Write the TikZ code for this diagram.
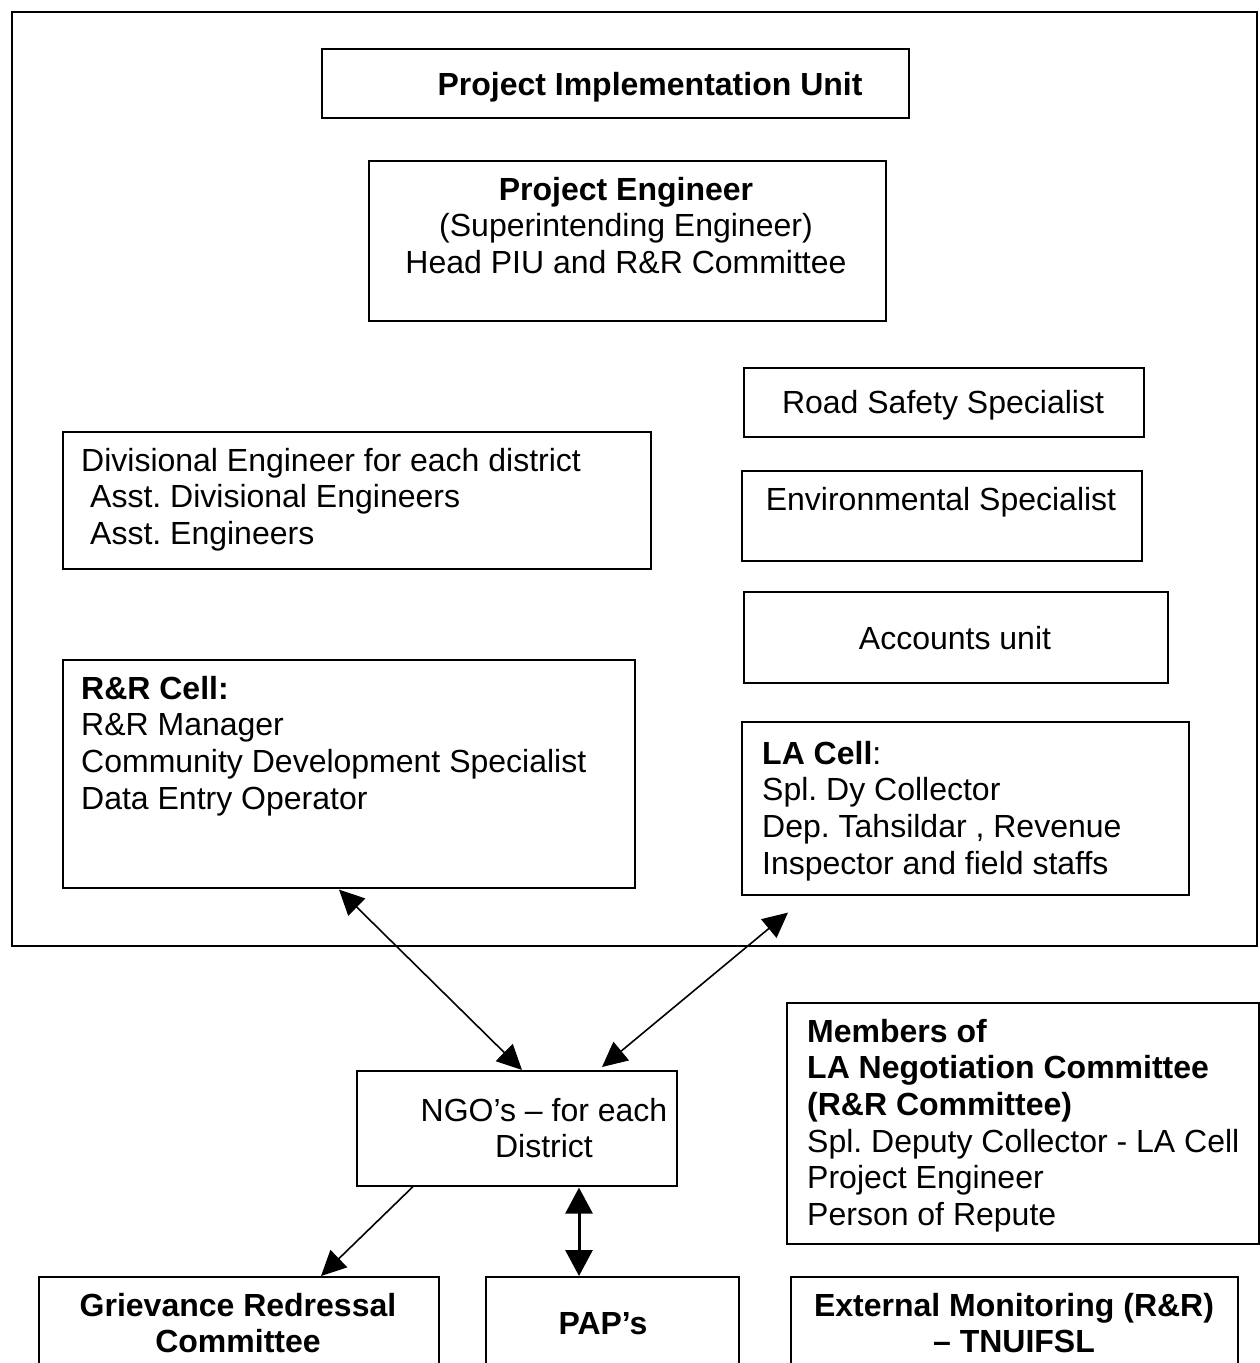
\documentclass[tikz,border=0pt]{standalone}
\usepackage{fontspec}
\setmainfont{Liberation Sans}
\usetikzlibrary{arrows.meta,calc}
\frenchspacing
\newcommand\mlines[2]{\begin{tabular}[t]{@{}#1@{}}#2\end{tabular}}
\begin{document}
\begin{tikzpicture}[x=1pt,y=-1pt,
  box/.style={draw, line width=1.6pt, inner sep=0pt, anchor=north west},
  txt/.style={inner sep=0pt, anchor=base, font=\fontsize{32}{36.7}\selectfont\frenchspacing},
  ltxt/.style={txt, anchor=base west},
  dbl/.style={{Triangle[length=25pt,width=24pt]}-{Triangle[length=25pt,width=24pt]}, line width=1.6pt},
  sgl/.style={-{Triangle[length=25pt,width=24pt]}, line width=1.6pt},
  thick2/.style={{Triangle[length=26pt,width=27pt]}-{Triangle[length=26pt,width=27pt]}, line width=3pt},
]
\useasboundingbox (0,0) rectangle (1260,1363);
\fill[white] (0,0) rectangle (1260,1363);
\begin{scope}
\clip (0,0) rectangle (1260,1363);
% outer frame
\node[box, line width=2pt, minimum width=1245pt, minimum height=934pt] (frame) at (11,11) {};
% boxes
\node[box, minimum width=587pt, minimum height=69pt] (piu) at (321,48) {};
\node[box, minimum width=517pt, minimum height=160pt] (pe) at (368,160) {};
\node[box, minimum width=400pt, minimum height=69pt] (rss) at (743,367) {};
\node[box, minimum width=400pt, minimum height=90pt] (env) at (741,470) {};
\node[box, minimum width=424pt, minimum height=91pt] (acc) at (743,591) {};
\node[box, minimum width=588pt, minimum height=137pt] (div) at (62,431) {};
\node[box, minimum width=572pt, minimum height=228pt] (rr) at (62,659) {};
\node[box, minimum width=447pt, minimum height=173pt] (la) at (741,721) {};
\node[box, minimum width=320pt, minimum height=115pt] (ngo) at (356,1070) {};
\node[box, minimum width=472pt, minimum height=241pt] (mem) at (786,1002) {};
\node[box, minimum width=400pt, minimum height=150pt] (grv) at (38,1276) {};
\node[box, minimum width=253pt, minimum height=150pt] (pap) at (485,1276) {};
\node[box, minimum width=447pt, minimum height=150pt] (ext) at (790,1276) {};
% texts
\node[txt] (tpiu) at (650,95) {\textbf{Project Implementation Unit}};
\node[txt] (tpe) at (626,200) {\mlines{c}{\textbf{Project Engineer}\\(Superintending Engineer)\\Head PIU and R\&R Committee}};
\node[txt] (trss) at (943,413) {Road Safety Specialist};
\node[txt] (tenv) at (941,510) {Environmental Specialist};
\node[txt] (tacc) at (955,649) {Accounts unit};
\node[ltxt] (tdiv) at (81,471) {\mlines{l}{Divisional Engineer for each district\\\hspace{9pt}Asst. Divisional Engineers\\\hspace{9pt}Asst. Engineers}};
\node[ltxt] (trr) at (81,699) {\mlines{l}{\textbf{R\&R Cell:}\\R\&R Manager\\Community Development Specialist\\Data Entry Operator}};
\node[ltxt] (tla) at (762,764) {\mlines{l}{\textbf{LA Cell}:\\Spl. Dy Collector\\Dep. Tahsildar , Revenue\\Inspector and field staffs}};
\node[txt] (tngo) at (544,1121) {\mlines{c}{NGO’s – for each\\District}};
\node[ltxt] (tmem) at (807,1042) {\mlines{l}{\textbf{Members of}\\\textbf{LA Negotiation Committee}\\\textbf{(R\&R Committee)}\\Spl. Deputy Collector - LA Cell\\Project Engineer\\Person of Repute}};
\node[txt] (tgrv) at (238,1316) {\mlines{c}{\textbf{Grievance Redressal}\\\textbf{Committee}}};
\node[txt] (tpap) at (603,1334) {\textbf{PAP’s}};
\node[txt] (text) at (1014,1316) {\mlines{c}{\textbf{External Monitoring (R\&R)}\\\textbf{– TNUIFSL}}};
% connectors
\draw[dbl] ($(rr.south west)+(277,1)$) -- ($(ngo.north west)+(166,0)$);
\draw[dbl] ($(la.south west)+(47,17)$) -- ($(ngo.north west)+(246,-3)$);
\draw[sgl] ($(ngo.south west)+(57,0)$) -- ($(grv.north west)+(283,0)$);
\draw[thick2] ($(ngo.south west)+(223,1)$) -- ($(pap.north west)+(94,0)$);
\end{scope}
\end{tikzpicture}
\end{document}
